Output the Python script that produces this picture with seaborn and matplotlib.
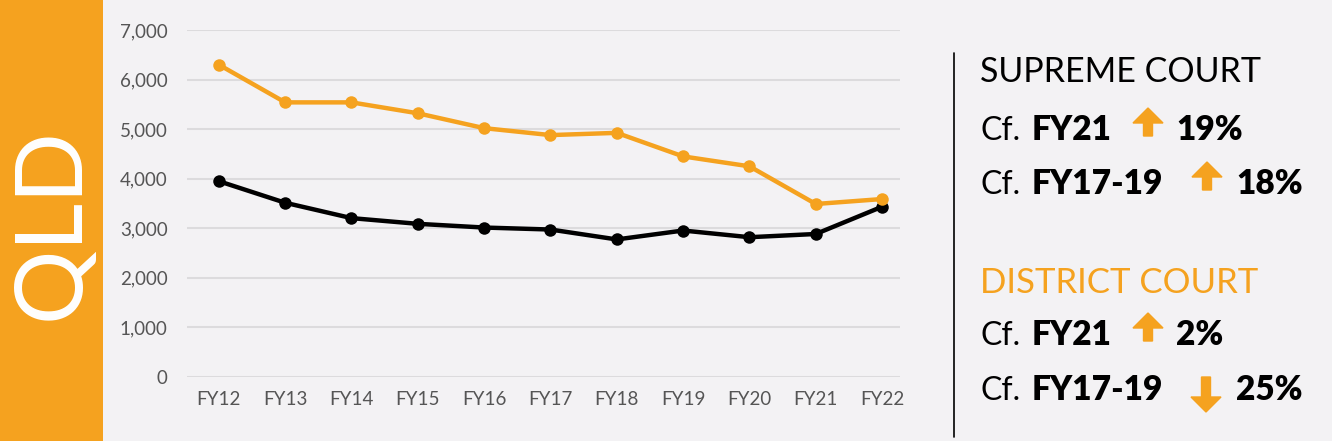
import matplotlib
matplotlib.use("Agg")
import matplotlib.pyplot as plt
from matplotlib.patches import FancyArrow, Rectangle
from matplotlib.lines import Line2D
import numpy as np
import pandas as pd
import seaborn as sns

# values
years = ["FY12", "FY13", "FY14", "FY15", "FY16", "FY17", "FY18", "FY19", "FY20", "FY21", "FY22"]
supreme = [3950, 3515, 3205, 3090, 3015, 2975, 2775, 2955, 2820, 2885, 3435]
district = [6300, 5540, 5540, 5320, 5020, 4880, 4925, 4450, 4250, 3490, 3590]
yticks = [0, 1000, 2000, 3000, 4000, 5000, 6000, 7000]

ORANGE = "#F5A21F"
BG = "#F3F2F4"

data = pd.DataFrame({
    "Year": years * 2,
    "Value": supreme + district,
    "Court": ["Supreme"] * len(years) + ["District"] * len(years),
})
data["x"] = list(range(len(years))) * 2

sns.set_theme(style="white")
plt.rcParams["font.family"] = ["Lato", "DejaVu Sans"]

fig = plt.figure(figsize=(13.32, 4.41), dpi=100)
fig.patch.set_facecolor(BG)

# orange side band with the state name
fig.add_artist(Rectangle((0, 0), 103 / 1332, 1, transform=fig.transFigure,
                         facecolor=ORANGE, edgecolor="none"))
fig.text(53 / 1332, 1 - 223 / 441, "QLD", rotation=90, color="white",
         fontsize=67, fontweight="normal", ha="center", va="center")

ax = fig.add_axes([187 / 1332, 1 - 377 / 441, 713 / 1332, 347 / 441])
ax.set_facecolor(BG)

sns.lineplot(data=data, x="x", y="Value", hue="Court", hue_order=["Supreme", "District"],
             palette={"Supreme": "black", "District": ORANGE}, marker="o",
             markersize=9, markeredgewidth=0, linewidth=3.2, legend=False, ax=ax)

ax.set_ylim(0, 7000)
ax.set_xlim(-0.48, 10.27)
ax.set_yticks(yticks)
ax.set_yticklabels([f"{v:,}" for v in yticks])
ax.set_xticks(range(len(years)))
ax.set_xticklabels(years)
ax.grid(axis="y", color="#DCDBDD", linewidth=1.5)
ax.set_axisbelow(True)
for s in ax.spines.values():
    s.set_visible(False)
ax.tick_params(axis="both", length=0, colors="#555555", labelsize=13.5)
ax.tick_params(axis="y", pad=14)
ax.tick_params(axis="x", pad=10)
ax.set_xlabel("")
ax.set_ylabel("")

# divider line
fig.add_artist(Line2D([954 / 1332, 954 / 1332], [1 - 53 / 441, 1 - 437 / 441],
                      transform=fig.transFigure, color="black", linewidth=1.2))

def px(x, y):
    return x / 1332, 1 - y / 441

fig.text(*px(980, 82), "SUPREME COURT", fontsize=24.5, color="black", va="baseline")
fig.text(*px(980, 293), "DISTRICT COURT", fontsize=25, color=ORANGE, va="baseline")

rows = [
    (140, "FY21", 1176, "19%", 1148, "up"),
    (194, "FY17-19", 1236, "18%", 1207, "up"),
    (345, "FY21", 1176, "2%", 1148, "up"),
    (400, "FY17-19", 1236, "25%", 1206, "down"),
]
for base, period, pct_x, pct, arrow_x, direction in rows:
    fig.text(*px(980, base), "Cf.", fontsize=23, color="black", va="baseline")
    fig.text(*px(1032, base), period, fontsize=24, fontweight="heavy", color="black",
             va="baseline")
    fig.text(*px(pct_x, base), pct, fontsize=24, fontweight="heavy", color="black", va="baseline")
    # arrow in inches
    xin = arrow_x / 100
    if direction == "up":
        y0 = (441 - base + 4) / 100
        arr = FancyArrow(xin, y0, 0, 0.28, width=0.09, head_width=0.3, head_length=0.15,
                         length_includes_head=True, color=ORANGE,
                         transform=fig.dpi_scale_trans)
    else:
        y0 = (441 - base + 23) / 100
        arr = FancyArrow(xin, y0, 0, -0.35, width=0.09, head_width=0.3, head_length=0.15,
                         length_includes_head=True, color=ORANGE,
                         transform=fig.dpi_scale_trans)
    fig.add_artist(arr)

fig.savefig("out.png", dpi=100, facecolor=BG)
